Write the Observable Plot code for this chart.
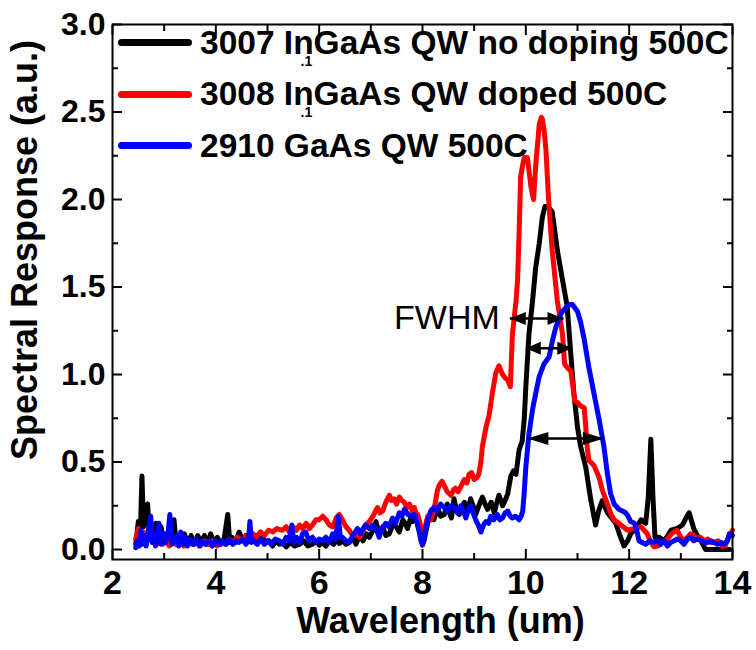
<!DOCTYPE html>
<html><head><meta charset="utf-8">
<script src="https://cdn.jsdelivr.net/npm/d3@7"></script>
<script src="https://cdn.jsdelivr.net/npm/@observablehq/plot@0.6"></script>
<style>
body{margin:0;background:#fff;}
#wrap{position:relative;width:756px;height:650px;font-family:"Liberation Sans",Arial,sans-serif;}
#legend{position:absolute;left:118px;top:16.5px;}
.row{display:flex;align-items:center;height:51.7px;white-space:nowrap;}
.sw{width:74px;height:7px;border-radius:3.5px;margin-right:8px;flex:none;}
.lab{font-size:33.5px;font-weight:bold;color:#000;line-height:1;white-space:nowrap;}
.sub{display:inline-block;position:relative;width:0;left:-13px;top:12px;font-size:14px;}
</style></head><body><div id="wrap"><div id="chart"></div><div id="legend"></div></div>
<script>
// ---- data (wavelength um, spectral response a.u.) ----
const black = [[2.45,0.03],[2.50,0.16],[2.54,0.10],[2.57,0.42],[2.60,0.13],[2.64,0.20],[2.68,0.26],[2.71,0.10],[2.74,0.14],[2.79,0.06],[2.84,0.15],[2.88,0.05],[2.94,0.13],[2.98,0.04],[3.03,0.09],[3.08,0.03],[3.13,0.10],[3.19,0.17],[3.23,0.04],[3.26,0.07],[3.32,0.03],[3.39,0.09],[3.45,0.04],[3.52,0.08],[3.58,0.03],[3.65,0.08],[3.71,0.04],[3.78,0.08],[3.84,0.03],[3.90,0.09],[3.96,0.04],[4.03,0.07],[4.10,0.03],[4.16,0.06],[4.23,0.20],[4.27,0.04],[4.31,0.07],[4.38,0.04],[4.45,0.10],[4.52,0.05],[4.58,0.08],[4.65,0.05],[4.72,0.07],[4.80,0.04],[4.87,0.10],[4.95,0.04],[5.03,0.05],[5.10,0.02],[5.16,0.05],[5.23,0.03],[5.30,0.04],[5.36,0.015],[5.45,0.04],[5.52,0.02],[5.62,0.03],[5.70,0.05],[5.78,0.02],[5.87,0.03],[5.94,0.05],[6.00,0.025],[6.07,0.04],[6.13,0.02],[6.20,0.05],[6.28,0.03],[6.34,0.06],[6.39,0.035],[6.46,0.05],[6.52,0.03],[6.58,0.04],[6.65,0.07],[6.71,0.03],[6.78,0.08],[6.85,0.05],[6.91,0.09],[6.97,0.07],[7.04,0.11],[7.10,0.16],[7.16,0.09],[7.23,0.13],[7.29,0.08],[7.36,0.09],[7.42,0.14],[7.49,0.13],[7.55,0.10],[7.62,0.17],[7.68,0.14],[7.71,0.12],[7.78,0.19],[7.81,0.16],[7.87,0.21],[7.91,0.14],[7.96,0.08],[8.00,0.025],[8.03,0.05],[8.10,0.15],[8.16,0.21],[8.22,0.17],[8.29,0.24],[8.35,0.19],[8.42,0.20],[8.48,0.26],[8.51,0.22],[8.56,0.18],[8.61,0.29],[8.66,0.22],[8.71,0.20],[8.76,0.24],[8.81,0.27],[8.87,0.22],[8.93,0.29],[8.98,0.25],[9.03,0.20],[9.09,0.25],[9.16,0.30],[9.21,0.26],[9.26,0.23],[9.33,0.27],[9.39,0.21],[9.44,0.27],[9.48,0.31],[9.52,0.28],[9.55,0.25],[9.60,0.28],[9.65,0.32],[9.71,0.42],[9.76,0.45],[9.81,0.43],[9.87,0.57],[9.93,0.62],[9.97,0.75],[10.00,0.93],[10.06,1.23],[10.13,1.42],[10.19,1.61],[10.26,1.75],[10.32,1.90],[10.37,1.96],[10.45,1.95],[10.51,1.93],[10.56,1.82],[10.61,1.71],[10.71,1.54],[10.80,1.39],[10.87,1.12],[10.93,0.89],[11.00,0.70],[11.06,0.59],[11.16,0.47],[11.26,0.28],[11.35,0.14],[11.41,0.22],[11.48,0.28],[11.58,0.21],[11.66,0.18],[11.74,0.15],[11.81,0.09],[11.90,0.02],[11.97,0.05],[12.03,0.09],[12.13,0.12],[12.23,0.17],[12.32,0.15],[12.37,0.30],[12.42,0.63],[12.46,0.30],[12.50,0.07],[12.58,0.07],[12.68,0.05],[12.75,0.08],[12.81,0.11],[12.93,0.12],[13.03,0.14],[13.10,0.18],[13.16,0.21],[13.22,0.15],[13.25,0.12],[13.32,0.08],[13.39,0.05],[13.48,0.00],[13.64,0.00],[13.84,0.00],[13.94,0.00]];

const red = [[2.45,0.06],[2.50,0.12],[2.55,0.04],[2.60,0.10],[2.65,0.03],[2.70,0.09],[2.75,0.05],[2.80,0.08],[2.86,0.03],[2.92,0.07],[2.98,0.03],[3.04,0.06],[3.10,0.02],[3.16,0.05],[3.22,0.03],[3.30,0.06],[3.38,0.02],[3.46,0.05],[3.54,0.03],[3.62,0.05],[3.70,0.02],[3.78,0.05],[3.86,0.03],[3.94,0.05],[4.02,0.02],[4.10,0.04],[4.18,0.03],[4.26,0.06],[4.34,0.04],[4.42,0.07],[4.50,0.05],[4.58,0.08],[4.66,0.06],[4.72,0.09],[4.78,0.07],[4.86,0.10],[4.94,0.08],[5.02,0.11],[5.10,0.10],[5.18,0.12],[5.29,0.11],[5.36,0.13],[5.42,0.10],[5.49,0.13],[5.56,0.11],[5.62,0.14],[5.68,0.12],[5.75,0.15],[5.81,0.12],[5.87,0.14],[5.94,0.17],[6.00,0.17],[6.07,0.19],[6.13,0.17],[6.20,0.14],[6.26,0.13],[6.33,0.18],[6.39,0.20],[6.45,0.17],[6.52,0.13],[6.58,0.11],[6.65,0.08],[6.71,0.09],[6.78,0.07],[6.84,0.10],[6.90,0.14],[6.97,0.16],[7.04,0.19],[7.09,0.22],[7.13,0.24],[7.18,0.21],[7.23,0.22],[7.29,0.27],[7.36,0.31],[7.40,0.28],[7.45,0.29],[7.50,0.26],[7.55,0.30],[7.60,0.28],[7.65,0.27],[7.70,0.24],[7.75,0.26],[7.80,0.22],[7.84,0.24],[7.88,0.20],[7.91,0.20],[7.96,0.14],[7.99,0.09],[8.02,0.09],[8.06,0.14],[8.10,0.19],[8.16,0.17],[8.22,0.22],[8.29,0.34],[8.33,0.37],[8.38,0.39],[8.43,0.36],[8.48,0.33],[8.55,0.31],[8.60,0.34],[8.64,0.35],[8.69,0.33],[8.74,0.36],[8.81,0.40],[8.86,0.38],[8.90,0.43],[8.95,0.44],[9.00,0.40],[9.05,0.41],[9.09,0.43],[9.13,0.50],[9.16,0.59],[9.23,0.70],[9.29,0.77],[9.35,0.89],[9.42,1.01],[9.48,1.05],[9.52,1.02],[9.55,1.00],[9.60,0.98],[9.65,0.97],[9.70,0.93],[9.74,1.23],[9.81,1.42],[9.84,1.54],[9.87,1.81],[9.90,2.13],[9.94,2.20],[9.97,2.24],[10.03,2.24],[10.10,2.07],[10.15,2.00],[10.19,2.19],[10.26,2.43],[10.30,2.47],[10.32,2.46],[10.36,2.38],[10.39,2.28],[10.44,2.00],[10.51,1.71],[10.61,1.42],[10.71,1.23],[10.75,1.06],[10.80,1.04],[10.87,1.02],[10.95,0.85],[11.00,0.84],[11.06,0.82],[11.13,0.81],[11.16,0.70],[11.19,0.58],[11.22,0.51],[11.32,0.48],[11.42,0.41],[11.48,0.34],[11.58,0.26],[11.65,0.20],[11.71,0.17],[11.84,0.14],[11.97,0.11],[12.10,0.12],[12.23,0.13],[12.35,0.09],[12.42,0.04],[12.48,0.015],[12.55,0.02],[12.61,0.03],[12.68,0.05],[12.74,0.06],[12.82,0.09],[12.87,0.10],[12.93,0.11],[13.00,0.07],[13.06,0.05],[13.13,0.07],[13.19,0.09],[13.25,0.08],[13.32,0.06],[13.38,0.07],[13.45,0.05],[13.52,0.06],[13.58,0.04],[13.64,0.04],[13.72,0.05],[13.78,0.03],[13.84,0.01],[13.90,0.05],[13.94,0.08],[14.00,0.11]];

const blue = [[2.45,0.01],[2.48,0.05],[2.52,0.02],[2.55,0.11],[2.58,0.03],[2.62,0.08],[2.65,0.02],[2.70,0.12],[2.74,0.19],[2.77,0.04],[2.80,0.09],[2.83,0.02],[2.87,0.10],[2.90,0.15],[2.94,0.03],[2.98,0.09],[3.02,0.04],[3.07,0.08],[3.11,0.20],[3.15,0.03],[3.19,0.05],[3.24,0.08],[3.28,0.02],[3.32,0.10],[3.36,0.03],[3.41,0.07],[3.45,0.02],[3.50,0.06],[3.56,0.03],[3.62,0.06],[3.68,0.02],[3.74,0.05],[3.80,0.03],[3.87,0.05],[3.93,0.02],[4.00,0.05],[4.07,0.03],[4.13,0.05],[4.20,0.03],[4.26,0.06],[4.33,0.03],[4.40,0.05],[4.45,0.04],[4.52,0.06],[4.58,0.03],[4.63,0.05],[4.66,0.16],[4.69,0.04],[4.74,0.05],[4.80,0.03],[4.87,0.06],[4.94,0.03],[5.00,0.05],[5.07,0.03],[5.15,0.06],[5.23,0.05],[5.30,0.03],[5.36,0.07],[5.42,0.05],[5.47,0.14],[5.51,0.04],[5.56,0.07],[5.62,0.04],[5.68,0.09],[5.74,0.10],[5.80,0.05],[5.87,0.07],[5.94,0.04],[6.00,0.06],[6.07,0.05],[6.13,0.07],[6.20,0.04],[6.26,0.09],[6.32,0.06],[6.37,0.19],[6.41,0.07],[6.45,0.07],[6.52,0.05],[6.58,0.04],[6.65,0.08],[6.70,0.10],[6.74,0.12],[6.80,0.09],[6.85,0.12],[6.90,0.14],[6.97,0.12],[7.04,0.14],[7.10,0.12],[7.16,0.07],[7.22,0.12],[7.29,0.15],[7.35,0.13],[7.42,0.18],[7.48,0.15],[7.55,0.21],[7.60,0.19],[7.65,0.23],[7.72,0.20],[7.78,0.19],[7.84,0.20],[7.87,0.18],[7.93,0.11],[7.97,0.05],[8.00,0.03],[8.05,0.10],[8.10,0.17],[8.16,0.22],[8.22,0.24],[8.28,0.22],[8.35,0.26],[8.42,0.24],[8.48,0.22],[8.55,0.25],[8.61,0.24],[8.68,0.21],[8.74,0.25],[8.79,0.22],[8.84,0.18],[8.88,0.22],[8.93,0.25],[8.98,0.21],[9.03,0.17],[9.08,0.14],[9.13,0.10],[9.18,0.14],[9.23,0.16],[9.28,0.15],[9.32,0.19],[9.38,0.17],[9.45,0.20],[9.50,0.17],[9.55,0.18],[9.60,0.21],[9.65,0.22],[9.70,0.19],[9.74,0.18],[9.80,0.19],[9.87,0.17],[9.91,0.19],[9.94,0.22],[9.97,0.33],[10.00,0.47],[10.06,0.66],[10.13,0.80],[10.19,0.89],[10.26,0.99],[10.35,1.06],[10.45,1.10],[10.52,1.20],[10.58,1.27],[10.68,1.35],[10.80,1.39],[10.86,1.40],[10.90,1.40],[10.95,1.38],[11.00,1.36],[11.06,1.30],[11.13,1.20],[11.22,1.04],[11.32,0.89],[11.42,0.74],[11.51,0.59],[11.58,0.43],[11.64,0.32],[11.71,0.26],[11.80,0.23],[11.87,0.22],[11.93,0.21],[11.98,0.19],[12.03,0.16],[12.10,0.15],[12.14,0.12],[12.19,0.05],[12.25,0.04],[12.32,0.03],[12.40,0.05],[12.48,0.04],[12.55,0.05],[12.61,0.03],[12.68,0.05],[12.74,0.02],[12.80,0.04],[12.87,0.05],[12.93,0.06],[13.00,0.05],[13.06,0.03],[13.13,0.06],[13.19,0.07],[13.25,0.05],[13.32,0.06],[13.40,0.05],[13.45,0.04],[13.51,0.04],[13.58,0.05],[13.64,0.04],[13.71,0.03],[13.78,0.04],[13.84,0.03],[13.90,0.05],[13.94,0.09],[14.00,0.08]];

const seriesColors = ["#000000", "#ff0000", "#0000ff"];
const legendParts = [
  ["3007 In", ".1", "GaAs QW no doping 500C"],
  ["3008 In", ".1", "GaAs QW doped 500C"],
  ["2910 GaAs QW 500C", "", ""]
];

// FWHM double arrows: left end, right end, height, head length
const fwhmX1 = [9.69, 10.00, 10.03];
const fwhmX2 = [10.73, 10.90, 11.51];
const fwhmY = [1.32, 1.15, 0.634];
const fwhmHead = [16, 15, 21];
const fwhmLabel = "FWHM";

const xMajor = [2, 4, 6, 8, 10, 12, 14];
const xMinor = [3, 5, 7, 9, 11, 13];
const yMajor = [0, 0.5, 1.0, 1.5, 2.0, 2.5, 3.0];
const yMinor = [0.25, 0.75, 1.25, 1.75, 2.25, 2.75];
const xTitle = "Wavelength (um)";
const yTitle = "Spectral Response (a.u.)";

// ---- build ----
const fwhm = fwhmX1.map((x1, i) => ({x1, x2: fwhmX2[i], y: fwhmY[i], head: fwhmHead[i]}));
const headLeft = {draw(ctx, size) { const L = Math.sqrt(size / Math.PI), h = 6.5; ctx.moveTo(0, 0); ctx.lineTo(L, -h); ctx.lineTo(L, h); ctx.closePath(); }};
const headRight = {draw(ctx, size) { const L = Math.sqrt(size / Math.PI), h = 6.5; ctx.moveTo(0, 0); ctx.lineTo(-L, -h); ctx.lineTo(-L, h); ctx.closePath(); }};

const FONT = '"Liberation Sans", Arial, sans-serif';
const lineOpts = (c) => ({x: d => d[0], y: d => d[1], stroke: c, strokeWidth: 5, strokeLinejoin: "round", strokeLinecap: "round"});
const tickOpts = {tickFormat: () => "", label: null, strokeWidth: 2};
const MAJ = 10, MIN = 6;

const chart = Plot.plot({
  width: 756, height: 650,
  marginLeft: 112, marginRight: 24, marginTop: 24, marginBottom: 91,
  x: {domain: [2, 14]},
  y: {domain: [-0.057, 3.0]},
  r: {type: "identity"},
  style: {fontFamily: FONT, color: "#000", background: "#fff"},
  marks: [
    Plot.line(black, lineOpts(seriesColors[0])),
    Plot.line(red, lineOpts(seriesColors[1])),
    Plot.line(blue, lineOpts(seriesColors[2])),
    Plot.link(fwhm, {x1: "x1", x2: "x2", y1: "y", y2: "y", stroke: "#000", strokeWidth: 2.5}),
    Plot.dot(fwhm, {x: "x1", y: "y", r: "head", symbol: headLeft, fill: "#000", stroke: "none"}),
    Plot.dot(fwhm, {x: "x2", y: "y", r: "head", symbol: headRight, fill: "#000", stroke: "none"}),
    Plot.text([fwhm[0]], {x: "x1", y: "y", text: () => fwhmLabel, textAnchor: "end", dx: -10, fontSize: 34, fill: "#000"}),
    Plot.frame({stroke: "#000", strokeWidth: 2}),
    // inward ticks on all four sides (outward ticks shifted into the frame)
    Plot.axisX(xMajor, {anchor: "bottom", tickSize: MAJ, dy: -MAJ, ...tickOpts}),
    Plot.axisX(xMinor, {anchor: "bottom", tickSize: MIN, dy: -MIN, ...tickOpts}),
    Plot.axisX(xMajor, {anchor: "top", tickSize: MAJ, dy: MAJ, ...tickOpts}),
    Plot.axisX(xMinor, {anchor: "top", tickSize: MIN, dy: MIN, ...tickOpts}),
    Plot.axisY(yMajor, {anchor: "left", tickSize: MAJ, dx: MAJ, ...tickOpts}),
    Plot.axisY(yMinor, {anchor: "left", tickSize: MIN, dx: MIN, ...tickOpts}),
    Plot.axisY(yMajor, {anchor: "right", tickSize: MAJ, dx: -MAJ, ...tickOpts}),
    Plot.axisY(yMinor, {anchor: "right", tickSize: MIN, dx: -MIN, ...tickOpts}),
    // tick labels
    Plot.axisX(xMajor, {anchor: "bottom", tickSize: 0, tickPadding: 10, label: null, fontSize: 34, fontWeight: "bold", tickFormat: d => String(d)}),
    Plot.axisY(yMajor, {anchor: "left", tickSize: 0, tickPadding: 7, label: null, fontSize: 32, fontWeight: "bold", tickFormat: d => d.toFixed(1)}),
    // axis titles
    Plot.text([xTitle], {frameAnchor: "bottom", text: d => d, textAnchor: "middle", dx: 18, dy: 48, lineAnchor: "top", fontSize: 36, fontWeight: "bold", fill: "#000"}),
    Plot.text([yTitle], {frameAnchor: "left", text: d => d, textAnchor: "middle", rotate: -90, dx: -87, dy: -42, lineAnchor: "middle", fontSize: 36, fontWeight: "bold", fill: "#000"})
  ]
});
document.getElementById("chart").appendChild(chart);

// legend overlay
const leg = document.getElementById("legend");
legendParts.forEach((p, i) => {
  const row = document.createElement("div"); row.className = "row";
  const sw = document.createElement("div"); sw.className = "sw"; sw.style.background = seriesColors[i];
  const lab = document.createElement("div"); lab.className = "lab";
  lab.appendChild(document.createTextNode(p[0]));
  if (p[1]) { const s = document.createElement("span"); s.className = "sub"; s.textContent = p[1]; lab.appendChild(s); }
  if (p[2]) lab.appendChild(document.createTextNode(p[2]));
  row.appendChild(sw); row.appendChild(lab); leg.appendChild(row);
});
</script></body></html>
